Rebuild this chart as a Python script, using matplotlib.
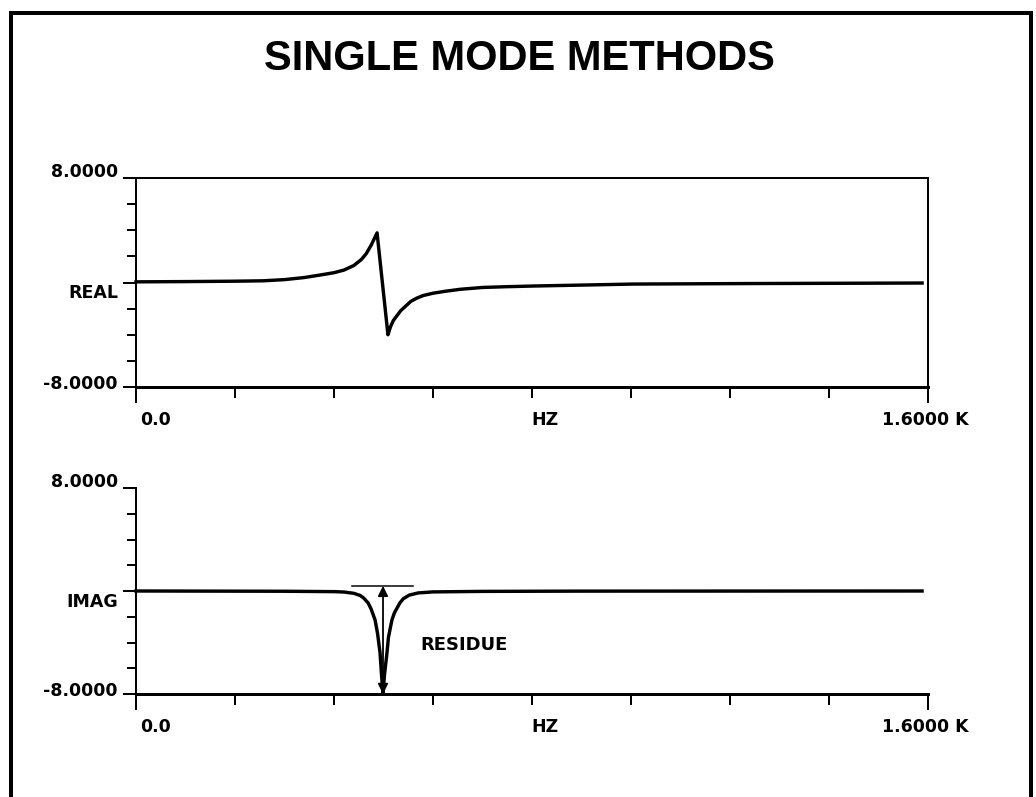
import numpy as np
import matplotlib.pyplot as plt
from matplotlib.ticker import FixedLocator
from matplotlib.lines import Line2D

# real part of the single mode response (Hz, value)
real_hz = [0, 100, 200, 257, 300, 340, 370, 400, 420, 440, 455, 465, 475, 482, 487,
           509, 514, 520, 527, 535, 545, 555, 567, 580, 600, 625, 655, 700, 750,
           802, 911, 1004, 1240, 1588]
real_val = [0.05, 0.07, 0.1, 0.13, 0.22, 0.38, 0.56, 0.75, 0.95, 1.3, 1.75, 2.2, 2.85,
            3.4, 3.8, -4.0, -3.4, -2.9, -2.55, -2.15, -1.8, -1.45, -1.2, -1.0, -0.82,
            -0.67, -0.52, -0.38, -0.32, -0.27, -0.19, -0.12, -0.08, -0.04]

# imaginary part (Hz, value)
imag_hz = [0, 300, 400, 420, 440, 453, 460, 469, 475, 483, 488, 493, 496, 499,
           502, 507, 510, 517, 522, 533, 540, 552, 570, 600, 700, 900, 1588]
imag_val = [0.0, -0.02, -0.05, -0.08, -0.18, -0.35, -0.55, -0.93, -1.4, -2.25, -3.3,
            -4.8, -6.5, -8.0, -6.5, -4.8, -3.6, -2.25, -1.7, -0.93, -0.6, -0.32,
            -0.15, -0.07, -0.03, -0.01, 0.0]

# residue marker
peak_hz = 499
residue_top = 0.4
residue_span = [436, 560]

y_lim = [-8.0, 8.0]
x_lim = [0, 1600]
x_minor = [200, 400, 600, 800, 1000, 1200, 1400]
y_minor = [-6, -4, -2, 2, 4, 6]

W, H = 1036, 797
fig = plt.figure(figsize=(W / 100, H / 100), dpi=100)
fig.patch.set_facecolor('white')

LBL = dict(family='DejaVu Sans', weight='bold', fontsize=12.5, color='black')


def px(v):
    return v * 0.72


def setup(ax, name, boxed):
    ax.set_xlim(x_lim)
    ax.set_ylim(y_lim)
    ax.set_facecolor('none')
    for s in ['left', 'right', 'top']:
        ax.spines[s].set_linewidth(px(2))
    ax.spines['bottom'].set_linewidth(px(3))
    if not boxed:
        ax.spines['right'].set_visible(False)
        ax.spines['top'].set_visible(False)
    ax.xaxis.set_major_locator(FixedLocator(x_lim))
    ax.xaxis.set_minor_locator(FixedLocator(x_minor))
    ax.yaxis.set_major_locator(FixedLocator([-8, 0, 8]))
    ax.yaxis.set_minor_locator(FixedLocator(y_minor))
    ax.tick_params(axis='x', which='major', direction='out', length=px(16), width=px(2),
                   labelbottom=False)
    ax.tick_params(axis='x', which='minor', direction='out', length=px(11), width=px(2),
                   labelbottom=False)
    ax.tick_params(axis='y', which='major', direction='out', length=px(13), width=px(2),
                   labelleft=False)
    ax.tick_params(axis='y', which='minor', direction='out', length=px(9), width=px(2),
                   labelleft=False)

    yl = ('axes fraction', 'data')
    ax.annotate('8.0000', xy=(0, 8), xycoords=yl, xytext=(-18, 1),
                textcoords='offset pixels', ha='right', va='baseline', **LBL)
    ax.annotate('-8.0000', xy=(0, -8), xycoords=yl, xytext=(-18, -2),
                textcoords='offset pixels', ha='right', va='baseline', **LBL)
    ax.annotate(name, xy=(0, 0), xycoords=yl, xytext=(-18, -16),
                textcoords='offset pixels', ha='right', va='baseline', **LBL)

    xl = ('data', 'axes fraction')
    ax.annotate('0.0', xy=(0, 0), xycoords=xl, xytext=(4, -38),
                textcoords='offset pixels', ha='left', va='baseline', **LBL)
    ax.annotate('HZ', xy=(826, 0), xycoords=xl, xytext=(0, -38),
                textcoords='offset pixels', ha='center', va='baseline', **LBL)
    ax.annotate('1.6000 K', xy=(1600, 0), xycoords=xl, xytext=(-3, -38),
                textcoords='offset pixels', ha='center', va='baseline', **LBL)


ax1 = fig.add_axes([136 / W, 1 - 387 / H, 792 / W, 209 / H])
ax2 = fig.add_axes([136 / W, 1 - 694 / H, 792 / W, 206 / H])
setup(ax1, 'REAL', True)
setup(ax2, 'IMAG', False)

ax1.plot(real_hz, real_val, color='black', lw=px(3.4), clip_on=False,
         solid_joinstyle='round')
ax2.plot(imag_hz, imag_val, color='black', lw=px(3.4), clip_on=False,
         solid_joinstyle='round')

# residue: level line and double arrow down to the dip
ax2.plot(residue_span, [residue_top, residue_top], color='black', lw=px(1.5))
ax2.annotate('', xy=(peak_hz, residue_top), xytext=(peak_hz, -8.0),
             arrowprops=dict(arrowstyle='<|-|>', color='black', lw=px(1.8),
                             mutation_scale=15, shrinkA=0, shrinkB=0))
ax2.text(574, -4.58, 'RESIDUE', ha='left', va='baseline',
         family='DejaVu Sans', weight='bold', fontsize=13, color='black')

fig.text(519 / W, 1 - 70 / H, 'SINGLE MODE METHODS', ha='center', va='baseline',
         family='Liberation Sans', weight='bold', fontsize=30, color='black')

# page frame
frame = dict(color='black', lw=px(4), transform=None, solid_capstyle='projecting')
fig.add_artist(Line2D([11, 11], [H - 13, -10], **frame))
fig.add_artist(Line2D([11, 1031], [H - 13, H - 13], **frame))
fig.add_artist(Line2D([1031, 1031], [H - 13, -10], **frame))

fig.savefig('out.png', dpi=100, facecolor='white')
